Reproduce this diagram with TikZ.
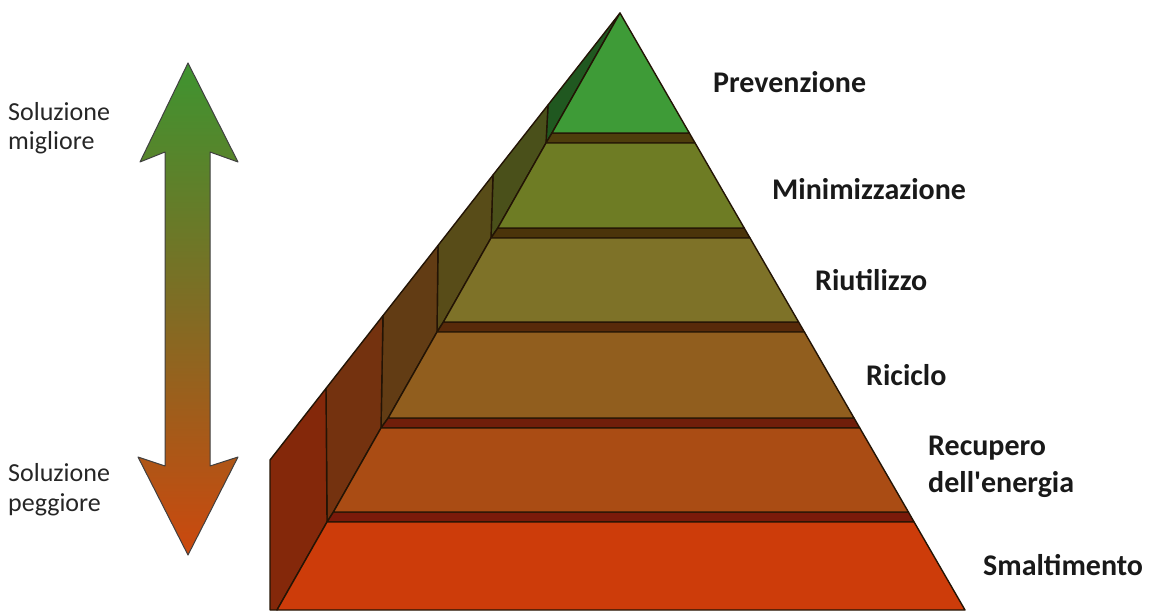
\documentclass[tikz,border=0pt]{standalone}
\usepackage{fontspec}
\setmainfont{Carlito}[Ligatures=TeXOff]
\definecolor{edgec}{RGB}{35,20,5}
\definecolor{fA}{RGB}{62,155,55}
\definecolor{sA}{RGB}{32,88,32}
\definecolor{tB}{RGB}{78,62,12}
\definecolor{fB}{RGB}{110,124,36}
\definecolor{sB}{RGB}{74,80,26}
\definecolor{tC}{RGB}{75,52,10}
\definecolor{fC}{RGB}{126,114,40}
\definecolor{sC}{RGB}{88,76,24}
\definecolor{tD}{RGB}{88,42,10}
\definecolor{fD}{RGB}{145,94,30}
\definecolor{sD}{RGB}{98,60,20}
\definecolor{tE}{RGB}{112,30,10}
\definecolor{fE}{RGB}{170,76,20}
\definecolor{sE}{RGB}{116,50,15}
\definecolor{tF}{RGB}{122,26,10}
\definecolor{fF}{RGB}{205,60,10}
\definecolor{sF}{RGB}{132,40,10}
\definecolor{arrTop}{RGB}{62,148,48}
\definecolor{arrMid}{RGB}{128,108,36}
\definecolor{arrBot}{RGB}{204,72,14}
\begin{document}
\begin{tikzpicture}[x=1pt,y=-1pt,
  face/.style={draw=edgec,line width=1.4pt,line join=round},
  lbl/.style={font=\fontsize{30}{37}\selectfont\bfseries,anchor=base west,inner sep=0pt,align=left,text=black!90},
  sidelbl/.style={font=\fontsize{26}{29.5}\selectfont,anchor=base west,inner sep=0pt,align=left,text=black!85}]
\useasboundingbox (0,0) rectangle (1157,612);
% right edge points
\coordinate (apex) at (620,13);
\coordinate (r1b) at (689.3,133);
\coordinate (r2t) at (695.1,143);
\coordinate (r2b) at (744.2,228);
\coordinate (r3t) at (750.0,238);
\coordinate (r3b) at (798.6,322);
\coordinate (r4t) at (804.4,332);
\coordinate (r4b) at (854.0,418);
\coordinate (r5t) at (859.8,428);
\coordinate (r5b) at (908.4,512);
\coordinate (r6t) at (914.1,522);
\coordinate (r6b) at (965.0,610);
% left front edge points
\coordinate (l1b) at (552,133);
\coordinate (l2t) at (546,143);
\coordinate (l2b) at (497.8,228);
\coordinate (l3t) at (491,238);
\coordinate (l3b) at (443.4,322);
\coordinate (l4t) at (437,332);
\coordinate (l4b) at (388.2,418);
\coordinate (l5t) at (381,428);
\coordinate (l5b) at (333.4,512);
\coordinate (l6t) at (327,522);
\coordinate (l6b) at (277,610);
% outer wall tops
\coordinate (w1) at (548,105);
\coordinate (w2) at (493,175);
\coordinate (w3) at (438,245.5);
\coordinate (w4) at (383,315.6);
\coordinate (w5) at (326,388.4);
\coordinate (w6) at (270,460);
\coordinate (w6b) at (270,610);
% side faces
\path[face,fill=sA] (w1) -- (apex) -- (l1b) -- (l2t) -- cycle;
\path[face,fill=sB] (w2) -- (w1) -- (l2t) -- (l2b) -- (l3t) -- cycle;
\path[face,fill=sC] (w3) -- (w2) -- (l3t) -- (l3b) -- (l4t) -- cycle;
\path[face,fill=sD] (w4) -- (w3) -- (l4t) -- (l4b) -- (l5t) -- cycle;
\path[face,fill=sE] (w5) -- (w4) -- (l5t) -- (l5b) -- (l6t) -- cycle;
\path[face,fill=sF] (w6) -- (w5) -- (l6t) -- (l6b) -- (w6b) -- cycle;
% top strips
\path[face,fill=tB] (l1b) -- (r1b) -- (r2t) -- (l2t) -- cycle;
\path[face,fill=tC] (l2b) -- (r2b) -- (r3t) -- (l3t) -- cycle;
\path[face,fill=tD] (l3b) -- (r3b) -- (r4t) -- (l4t) -- cycle;
\path[face,fill=tE] (l4b) -- (r4b) -- (r5t) -- (l5t) -- cycle;
\path[face,fill=tF] (l5b) -- (r5b) -- (r6t) -- (l6t) -- cycle;
% front faces
\path[face,fill=fA] (apex) -- (r1b) -- (l1b) -- cycle;
\path[face,fill=fB] (l2t) -- (r2t) -- (r2b) -- (l2b) -- cycle;
\path[face,fill=fC] (l3t) -- (r3t) -- (r3b) -- (l3b) -- cycle;
\path[face,fill=fD] (l4t) -- (r4t) -- (r4b) -- (l4b) -- cycle;
\path[face,fill=fE] (l5t) -- (r5t) -- (r5b) -- (l5b) -- cycle;
\path[face,fill=fF] (l6t) -- (r6t) -- (r6b) -- (l6b) -- cycle;
% double arrow
\path[draw=black!75,line width=1pt,line join=round,top color=arrTop,bottom color=arrBot,middle color=arrMid]
  (188,63) -- (238,162) -- (210,152) -- (210,466) -- (238,457) -- (188,555)
  -- (138,457) -- (165,466) -- (165,152) -- (140,162) -- cycle;
% labels
\node[lbl] (prev) at (713,93) {Prevenzione};
\node[lbl] (mini) at (772,200) {Minimizzazione};
\node[lbl] (riut) at (815,291) {Riutilizzo};
\node[lbl] (rici) at (866,385) {Riciclo};
\node[lbl] (recu) at (928,492) {Recupero\\dell'energia};
\node[lbl] (smal) at (983,575) {Smaltimento};
\node[sidelbl] (best) at (8,150) {Soluzione\\migliore};
\node[sidelbl] (worst) at (8,511) {Soluzione\\peggiore};
\end{tikzpicture}
\end{document}
